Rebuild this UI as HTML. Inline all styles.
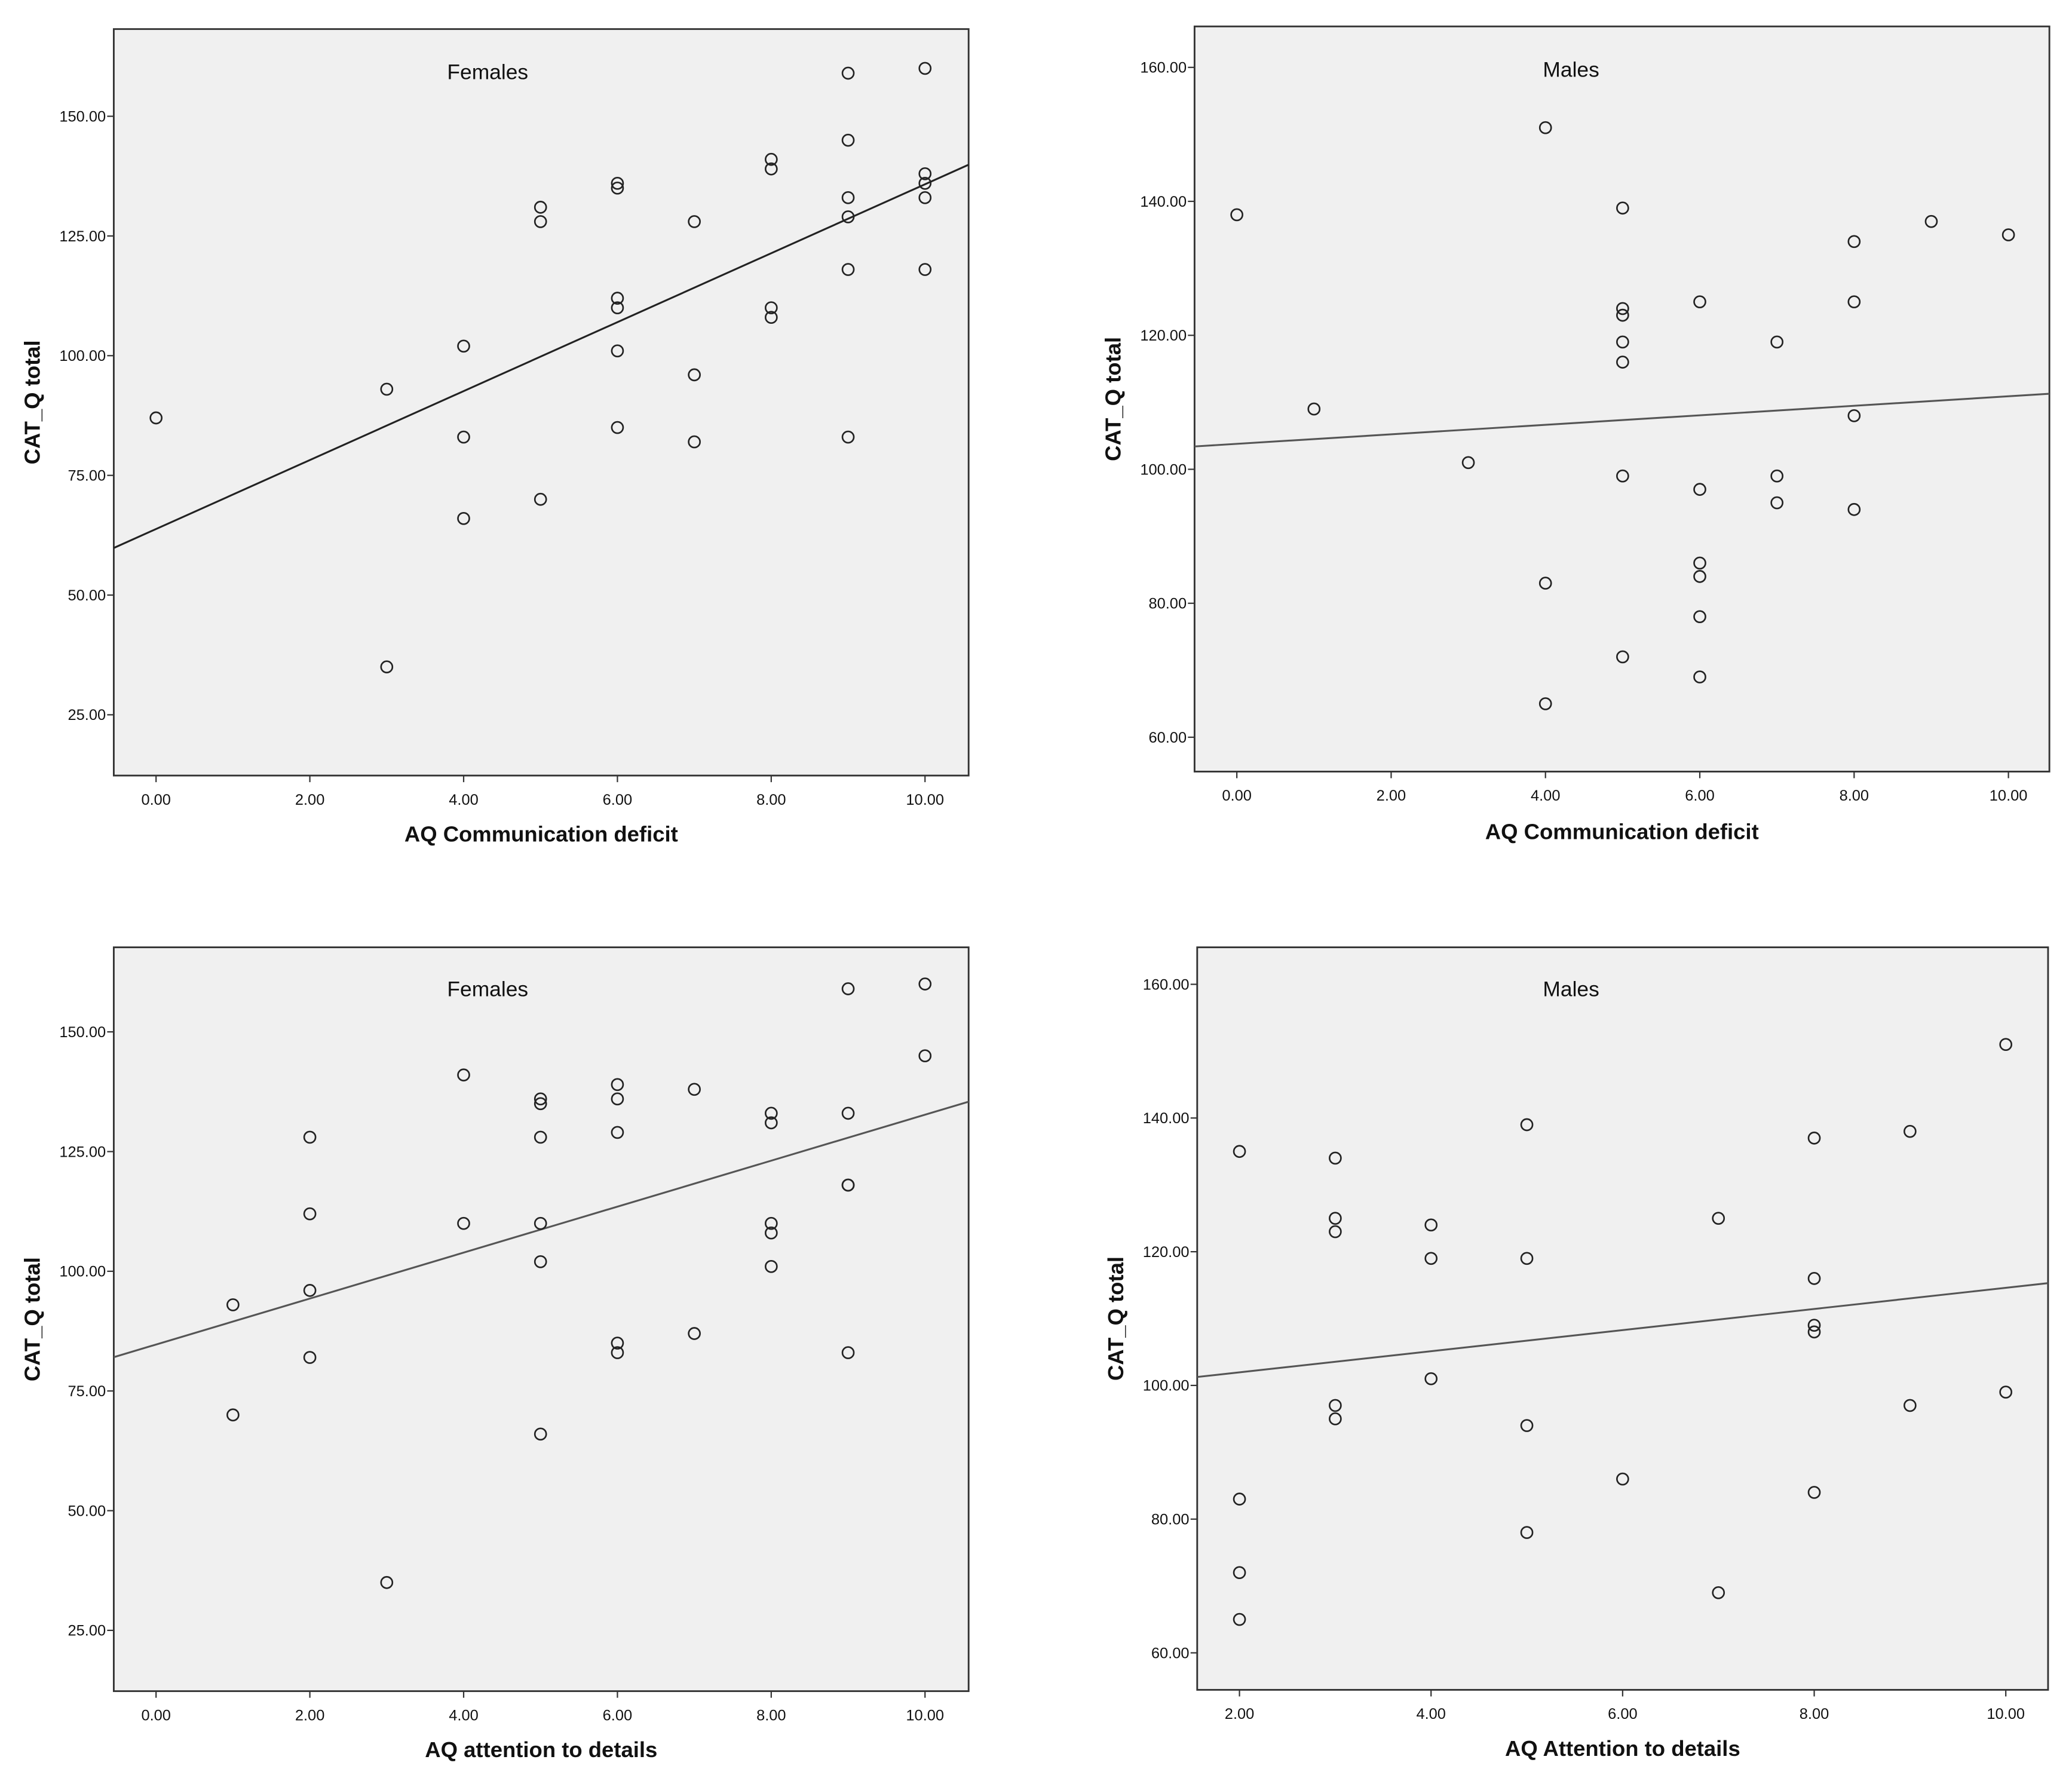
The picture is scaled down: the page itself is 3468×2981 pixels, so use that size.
<!DOCTYPE html>
<html><head><meta charset="utf-8"><style>
html,body{margin:0;padding:0;background:#fff}
svg{display:block}
text{font-family:"Liberation Sans",Arial,sans-serif;fill:#111}
</style></head><body>
<svg id="chart" width="3468" height="2981" viewBox="0 0 1568 1348" xmlns="http://www.w3.org/2000/svg"></svg>
<script>
// Panel 1: Females, AQ Communication deficit
const femCommX = [0,3,3,4,4,4,5,5,5,6,6,6,6,6,6,7,7,7,8,8,8,8,9,9,9,9,9,9,10,10,10,10,10];
const femCommY = [87,93,35,102,83,66,131,128,70,136,135,112,110,101,85,128,96,82,141,139,110,108,159,145,133,129,118,83,160,138,136,133,118];
const femCommFit = [63.8,7.2];
// Panel 2: Males, AQ Communication deficit
const maleCommX = [0,1,3,4,4,4,5,5,5,5,5,5,5,6,6,6,6,6,6,7,7,7,8,8,8,8,9,10];
const maleCommY = [138,109,101,151,83,65,139,124,123,119,116,99,72,125,97,86,84,78,69,119,99,95,134,125,108,94,137,135];
const maleCommFit = [103.8,0.71];
// Panel 3: Females, AQ attention to details
const femAttX = [1,1,2,2,2,2,3,4,4,5,5,5,5,5,5,6,6,6,6,6,7,7,8,8,8,8,8,9,9,9,9,9,10,10];
const femAttY = [93,70,128,112,96,82,35,141,110,136,135,128,110,102,66,139,136,129,85,83,138,87,133,131,110,108,101,159,133,118,118,83,160,145];
const femAttFit = [84.7,4.8];
// Panel 4: Males, AQ Attention to details
const maleAttX = [2,2,2,2,3,3,3,3,3,4,4,4,5,5,5,5,6,7,7,8,8,8,8,8,9,9,10,10];
const maleAttY = [135,83,72,65,134,125,123,97,95,124,119,101,139,119,94,78,86,125,69,137,116,109,108,84,138,97,151,99];
const maleAttFit = [98.8,1.58];

const femXTicks = [0,2,4,6,8,10];
const femYTicks = [25,50,75,100,125,150];
const maleCommXTicks = [0,2,4,6,8,10];
const maleAttXTicks = [2,4,6,8,10];
const maleYTicks = [60,80,100,120,140,160];

const panels = [
 {name:'females-communication',title:'Females',xt:'AQ Communication deficit',xs:femCommX,ys:femCommY,fit:femCommFit,xticks:femXTicks,yticks:femYTicks,
  box:[86,22,733,587],xa:[0,118,10,700],ya:[150,88,25,541],titlePos:[369,60],xtY:637,lineCol:'#222'},
 {name:'males-communication',title:'Males',xt:'AQ Communication deficit',xs:maleCommX,ys:maleCommY,fit:maleCommFit,xticks:maleCommXTicks,yticks:maleYTicks,
  box:[904,20,1551,584],xa:[0,936,10,1520],ya:[160,51,60,558],titlePos:[1189,58],xtY:635,lineCol:'#555'},
 {name:'females-attention',title:'Females',xt:'AQ attention to details',xs:femAttX,ys:femAttY,fit:femAttFit,xticks:femXTicks,yticks:femYTicks,
  box:[86,717,733,1280],xa:[0,118,10,700],ya:[150,781,25,1234],titlePos:[369,754],xtY:1330,lineCol:'#555'},
 {name:'males-attention',title:'Males',xt:'AQ Attention to details',xs:maleAttX,ys:maleAttY,fit:maleAttFit,xticks:maleAttXTicks,yticks:maleYTicks,
  box:[906,717,1550,1279],xa:[2,938,10,1518],ya:[160,745,60,1251],titlePos:[1189,754],xtY:1329,lineCol:'#555'}
];
const NS='http://www.w3.org/2000/svg';
const svg=document.getElementById('chart');
function mk(tag,attrs,parent){const e=document.createElementNS(NS,tag);for(const k in attrs)e.setAttribute(k,attrs[k]);(parent||svg).appendChild(e);return e;}
panels.forEach(p=>{
  const g=mk('g',{});
  
  
  const [x0,y0,x1,y1]=p.box;
  const sx=v=>p.xa[1]+(v-p.xa[0])*(p.xa[3]-p.xa[1])/(p.xa[2]-p.xa[0]);
  const sy=v=>p.ya[1]+(v-p.ya[0])*(p.ya[3]-p.ya[1])/(p.ya[2]-p.ya[0]);
  const bg=mk('rect',{x:x0,y:y0,width:x1-x0,height:y1-y0,fill:'#f0f0f0',stroke:'#333','stroke-width':1.3},g);
  
  
  p.xticks.forEach(t=>{
    const x=sx(t);
    mk('line',{x1:x,y1:y1,x2:x,y2:y1+5,stroke:'#333','stroke-width':1},g);
    const tx=mk('text',{x:x,y:y1+22,'font-size':11.5,'text-anchor':'middle',fill:'#333'},g);
    tx.textContent=t.toFixed(2);
    
    
  });
  p.yticks.forEach(t=>{
    const y=sy(t);
    mk('line',{x1:x0-5,y1:y,x2:x0,y2:y,stroke:'#333','stroke-width':1},g);
    const tx=mk('text',{x:x0-6,y:y+4,'font-size':11.5,'text-anchor':'end',fill:'#333'},g);
    tx.textContent=t.toFixed(2);
    
    
  });
  const xa0=p.xa[0]+(x0-p.xa[1])*(p.xa[2]-p.xa[0])/(p.xa[3]-p.xa[1]);
  const xa1=p.xa[0]+(x1-p.xa[1])*(p.xa[2]-p.xa[0])/(p.xa[3]-p.xa[1]);
  const ln=mk('line',{x1:x0,y1:sy(p.fit[0]+p.fit[1]*xa0),x2:x1,y2:sy(p.fit[0]+p.fit[1]*xa1),stroke:p.lineCol,'stroke-width':1.4},g);
  
  
  p.xs.forEach((xv,i)=>{
    const c=mk('circle',{cx:sx(xv),cy:sy(p.ys[i]),r:4.3,fill:'none',stroke:'#222','stroke-width':1.2},g);
    
    
  });
  const tt=mk('text',{x:p.titlePos[0],y:p.titlePos[1],'font-size':16,'text-anchor':'middle',fill:'#222'},g);
  tt.textContent=p.title;
  
  
  const xt=mk('text',{x:(x0+x1)/2,y:p.xtY,'font-size':16.5,'font-weight':'bold','text-anchor':'middle',fill:'#222'},g);
  xt.textContent=p.xt;
  
  
  const cy=(y0+y1)/2;
  const yx=x0-56;
  const yt=mk('text',{x:yx,y:cy,'font-size':16.5,'font-weight':'bold','text-anchor':'middle',fill:'#222',transform:`rotate(-90 ${yx} ${cy})`},g);
  yt.textContent='CAT_Q total';
  
  
});
</script>
</body></html>
